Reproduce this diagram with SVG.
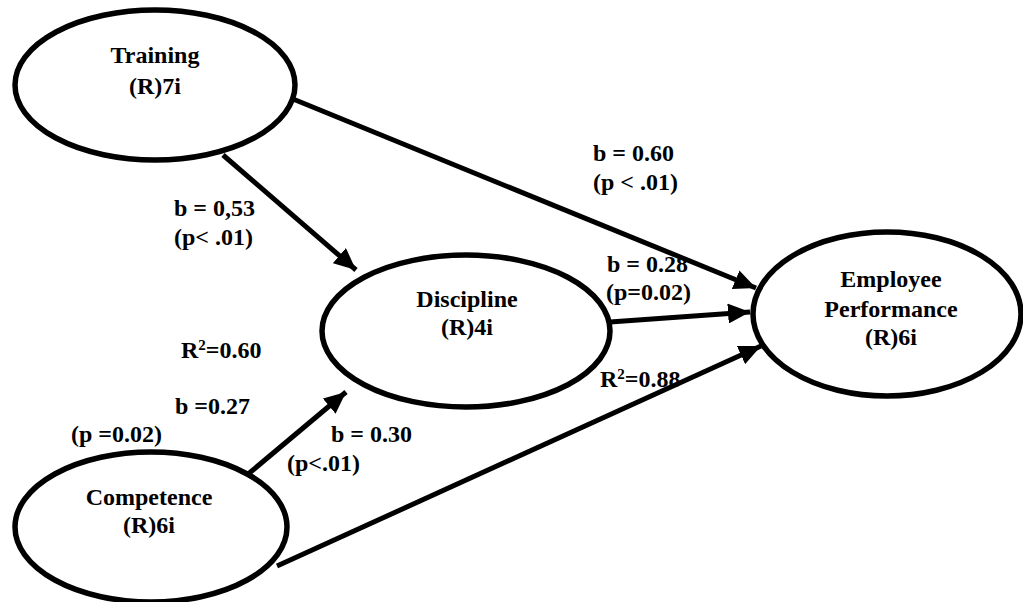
<svg xmlns="http://www.w3.org/2000/svg" width="1023" height="602" viewBox="0 0 1023 602">
<defs>
<marker id="ah" markerUnits="userSpaceOnUse" markerWidth="24" markerHeight="20" refX="22" refY="10" orient="auto">
<path d="M0,0 L22,10 L0,20 Z" fill="#000"/>
</marker>
<style>
.node ellipse{fill:#fff;stroke:#000;stroke-width:5.5}
.c{text-anchor:middle}
.edge{stroke:#000;stroke-width:5;fill:none;marker-end:url(#ah)}
</style>
</defs>
<rect width="1023" height="602" fill="#fff"/>
<g id="connectors">
<line class="edge" x1="223" y1="155" x2="356" y2="270"/>
<line class="edge" x1="293" y1="99" x2="756" y2="288"/>
<line class="edge" x1="610" y1="322" x2="750" y2="312"/>
<line class="edge" x1="247" y1="475" x2="346" y2="392"/>
<line class="edge" x1="277" y1="566" x2="761" y2="346"/>
</g>
<g font-family="'Liberation Serif', 'DejaVu Serif', serif" font-weight="bold" font-size="24" fill="#000">
<g id="training" class="node">
<ellipse cx="155" cy="85" rx="140" ry="75"/>
<text class="c" x="155" y="63">Training</text>
<text class="c" x="155" y="94">(R)7i</text>
</g>
<g id="discipline" class="node">
<ellipse cx="466" cy="331" rx="144" ry="76"/>
<text class="c" x="467" y="307">Discipline</text>
<text class="c" x="467" y="335">(R)4i</text>
</g>
<g id="employee-performance" class="node">
<ellipse cx="887" cy="314" rx="134" ry="82"/>
<text class="c" x="891" y="287">Employee</text>
<text class="c" x="891" y="317">Performance</text>
<text class="c" x="891" y="345">(R)6i</text>
</g>
<g id="competence" class="node">
<ellipse cx="151" cy="527" rx="136" ry="75"/>
<text class="c" x="149" y="505">Competence</text>
<text class="c" x="149" y="533">(R)6i</text>
</g>
<g id="labels">
<text x="593" y="161">b = 0.60</text>
<text x="593" y="190">(p &lt; .01)</text>
<text x="174" y="216">b = 0,53</text>
<text x="174" y="245">(p&lt; .01)</text>
<text x="607" y="272">b = 0.28</text>
<text x="606" y="300">(p=0.02)</text>
<text x="181" y="358">R<tspan font-size="15" dy="-8">2</tspan><tspan dy="8">=0.60</tspan></text>
<text x="175" y="414">b =0.27</text>
<text x="71" y="442">(p =0.02)</text>
<text x="331" y="442">b = 0.30</text>
<text x="287" y="471">(p&lt;.01)</text>
<text x="600" y="387">R<tspan font-size="15" dy="-8">2</tspan><tspan dy="8">=0.88</tspan></text>
</g>
</g>
</svg>
